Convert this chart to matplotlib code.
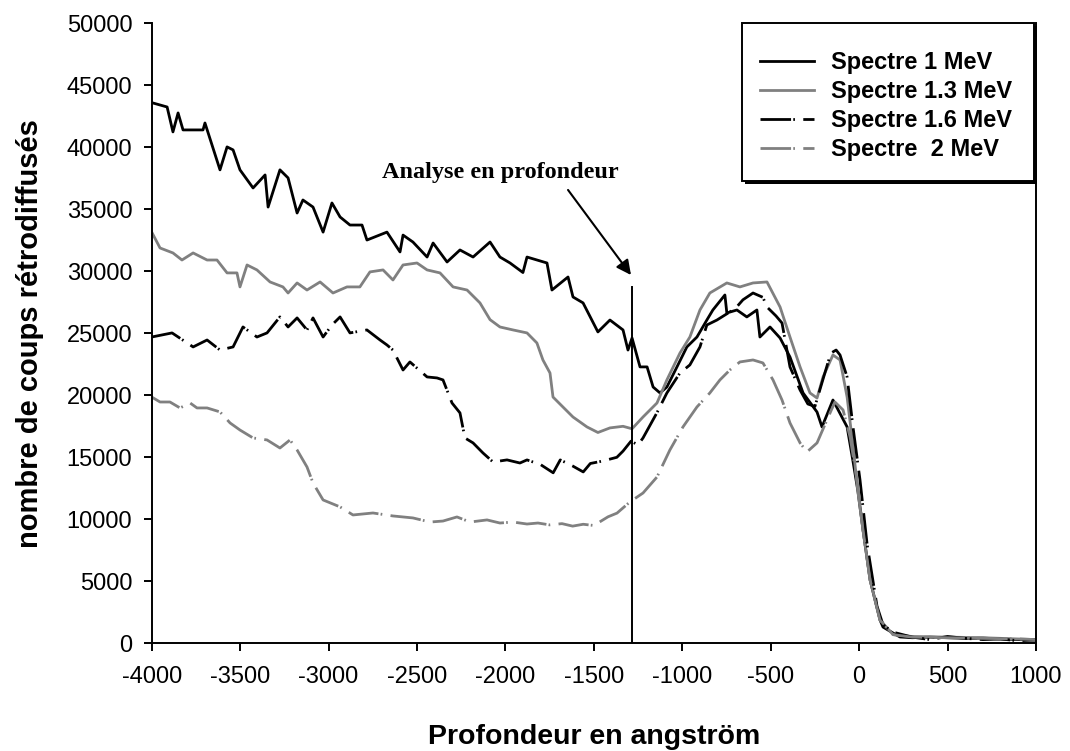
import numpy as np
import matplotlib
matplotlib.use("Agg")
import matplotlib.pyplot as plt
from matplotlib.patches import Rectangle

GRAY = "#808080"

# spectre 1 MeV
x_1 = [-4000, -3913, -3880, -3851, -3823, -3710, -3699, -3614, -3574, -3540,
       -3501, -3427, -3359, -3342, -3275, -3229, -3178, -3145, -3088, -3031,
       -2981, -2935, -2879, -2811, -2783, -2670, -2596, -2579, -2523, -2443,
       -2409, -2330, -2257, -2183, -2087, -2031, -1974, -1901, -1878, -1765,
       -1737, -1646, -1618, -1561, -1477, -1409, -1335, -1307, -1284, -1239,
       -1199, -1165, -1126, -1087, -1030, -974, -917, -861, -827, -759,
       -748, -691, -635, -578, -561, -504, -447, -391, -317, -238,
       -210, -148, -68, -34, -6, 22, 62, 118, 135, 192,
       231, 300, 400, 500, 600, 700, 800, 900, 1000]
y_1 = [43600, 43250, 41240, 42770, 41400, 41400, 41960, 38180, 40030, 39790,
       38180, 36720, 37770, 35180, 38180, 37530, 34700, 35750, 35180, 33160,
       35510, 34380, 33730, 33730, 32520, 33160, 31560, 32920, 32360, 31150,
       32280, 30750, 31720, 31150, 32360, 31150, 30670, 29900, 31150, 30670,
       28490, 29540, 27930, 27450, 25110, 26070, 25270, 23650, 24620, 22290,
       22290, 20670, 20190, 20670, 22290, 23900, 24700, 26070, 26880, 28090,
       26640, 26880, 26320, 26880, 24700, 25510, 24620, 23090, 20190, 18650,
       17450, 19620, 17450, 14620, 12200, 9140, 5110, 1880, 1310, 830,
       510, 450, 500, 450, 400, 420, 350, 300, 250]

# spectre 1.3 MeV
x_13 = [-4000, -3953, -3880, -3829, -3766, -3687, -3631, -3574, -3518, -3501,
        -3461, -3405, -3331, -3258, -3229, -3178, -3122, -3048, -2975, -2896,
        -2823, -2766, -2692, -2636, -2579, -2500, -2443, -2370, -2296, -2217,
        -2144, -2087, -2031, -1957, -1878, -1822, -1788, -1748, -1731, -1675,
        -1618, -1539, -1477, -1409, -1335, -1284, -1222, -1143, -1087, -1013,
        -957, -900, -844, -748, -674, -600, -521, -447, -391, -334,
        -278, -238, -204, -148, -108, -68, -34, -6, 22, 62,
        118, 192, 300, 500, 700, 900, 1000]
y_13 = [33160, 31880, 31480, 30910, 31480, 30910, 30910, 29870, 29870, 28740,
        30510, 30110, 29140, 28740, 28250, 29060, 28490, 29140, 28250, 28740,
        28740, 29950, 30110, 29300, 30510, 30670, 30110, 29870, 28740, 28490,
        27450, 26100, 25510, 25270, 25030, 24220, 22850, 21800, 19860, 19060,
        18250, 17450, 17000, 17370, 17500, 17300, 18250, 19380, 21240, 23410,
        24700, 26880, 28250, 29060, 28740, 29060, 29140, 27120, 24700, 22290,
        20190, 19780, 21480, 23250, 22850, 19860, 15830, 12120, 9140, 5110,
        1880, 700, 550, 500, 450, 350, 300]

# spectre 1.6 MeV
x_16 = [-4000, -3885, -3766, -3687, -3614, -3540, -3484, -3405, -3348, -3275,
        -3229, -3178, -3122, -3088, -3031, -2981, -2935, -2879, -2783, -2709,
        -2670, -2636, -2579, -2540, -2443, -2387, -2353, -2302, -2257, -2229,
        -2183, -2127, -2070, -1991, -1918, -1878, -1800, -1730, -1690, -1620,
        -1560, -1520, -1450, -1370, -1335, -1290, -1250, -1222, -1143, -1087,
        -1013, -957, -900, -861, -804, -700, -657, -600, -544, -521,
        -470, -436, -391, -334, -290, -250, -200, -160, -130, -108,
        -68, -34, 5, 45, 101, 135, 192, 300, 400, 500,
        600, 700, 800, 900, 1000]
y_16 = [24700, 25030, 23900, 24460, 23650, 23900, 25510, 24700, 25030, 26320,
        25510, 26240, 25270, 26240, 24700, 25670, 26320, 25030, 25270, 24460,
        24060, 23650, 22040, 22690, 21480, 21400, 21240, 19380, 18580, 16560,
        16160, 15350, 14620, 14790, 14540, 14790, 14400, 13750, 14790, 14300,
        13820, 14500, 14700, 15000, 15500, 16300, 16000, 16560, 18600, 20190,
        21800, 22450, 23900, 25670, 26070, 27000, 27700, 28250, 27900, 27120,
        26400, 25830, 22290, 20430, 19300, 19100, 21500, 23400, 23650, 23250,
        21480, 17370, 13170, 8000, 3000, 1500, 900, 500, 300, 550,
        400, 300, 350, 200, 300]

# spectre 2 MeV
x_2 = [-4000, -3953, -3897, -3840, -3783, -3744, -3687, -3614, -3557, -3501,
       -3427, -3348, -3275, -3218, -3178, -3122, -3088, -3031, -2935, -2862,
       -2749, -2636, -2523, -2426, -2353, -2274, -2200, -2104, -2031, -1957,
       -1878, -1816, -1750, -1680, -1620, -1560, -1500, -1420, -1369, -1296,
       -1222, -1143, -1070, -996, -917, -844, -787, -731, -674, -600,
       -544, -487, -436, -391, -334, -295, -238, -182, -137, -91,
       -51, -12, 22, 62, 118, 192, 300, 500, 700, 900, 1000]
y_2 = [19860, 19460, 19460, 18980, 19380, 18980, 18980, 18660, 17770, 17200,
       16560, 16400, 15750, 16400, 15590, 14220, 12930, 11560, 11000, 10350,
       10510, 10270, 10110, 9780, 9860, 10190, 9780, 9950, 9700, 9780,
       9620, 9700, 9550, 9650, 9450, 9600, 9500, 10200, 10500, 11400,
       12120, 13410, 15590, 17450, 19060, 20190, 21240, 22040, 22690, 22850,
       22610, 21240, 19620, 17770, 16160, 15430, 16160, 18010, 19460, 18820,
       16640, 13170, 9140, 5110, 1880, 700, 500, 450, 400, 350, 300]

labels = ["Spectre 1 MeV", "Spectre 1.3 MeV", "Spectre 1.6 MeV", "Spectre  2 MeV"]

depth_line = -1284
depth_top = 28740

plt.rcParams["font.family"] = ["Liberation Sans", "DejaVu Sans"]
plt.rcParams["axes.unicode_minus"] = False

W, H = 1070, 751
fig = plt.figure(figsize=(W / 100, H / 100), dpi=100)
ax = fig.add_axes([0.1418, 0.1434, 0.8264, 0.8256])

lw = 2.0
dash = (11, 0.8, 0.6, 3)
ax.plot(x_1, y_1, color="black", lw=lw, label=labels[0])
ax.plot(x_13, y_13, color=GRAY, lw=lw, label=labels[1])
ax.plot(x_16, y_16, color="black", lw=lw, dashes=dash, label=labels[2])
ax.plot(x_2, y_2, color=GRAY, lw=lw, dashes=dash, label=labels[3])

ax.plot([depth_line, depth_line], [0, depth_top], color="black", lw=1.4)
ax.annotate("", xy=(-1290, 29700), xytext=(-1646, 36560),
            arrowprops=dict(arrowstyle="-|>", color="black", lw=1.5,
                            mutation_scale=22, shrinkA=0, shrinkB=0))
ax.text(-2030, 38000, "Analyse en profondeur", ha="center", va="center",
        family=["Liberation Serif", "DejaVu Serif"], fontweight="bold", fontsize=17.5)

ax.set_xlim(-4000, 1000)
ax.set_ylim(0, 50000)
ax.set_xticks(np.arange(-4000, 1001, 500))
ax.set_yticks(np.arange(0, 50001, 5000))
ax.tick_params(direction="out", length=6, width=1.4, labelsize=17)
ax.tick_params(axis="x", pad=10)
ax.tick_params(axis="y", pad=8, right=False)
for side in ["left", "bottom", "right"]:
    ax.spines[side].set_linewidth(1.4)
ax.spines["top"].set_visible(False)

ax.set_xlabel("Profondeur en angström", fontsize=20.5, fontweight="bold", labelpad=26)
ax.set_ylabel("nombre de coups rétrodiffusés", fontsize=21, fontweight="bold", labelpad=16)

# legend box with a solid drop shadow, drawn in figure pixels
bx0, by0, bx1, by1 = 742, 23, 1034, 181
shadow = Rectangle((bx0 / W + 3 / W, 1 - (by1 + 3) / H), (bx1 - bx0) / W, (by1 - by0) / H,
                   transform=fig.transFigure, facecolor="black", edgecolor="black",
                   lw=0, clip_on=False, zorder=4)
box = Rectangle((bx0 / W, 1 - by1 / H), (bx1 - bx0) / W, (by1 - by0) / H,
                transform=fig.transFigure, facecolor="white", edgecolor="black",
                lw=1.4, clip_on=False, zorder=4.5)
ax.add_patch(shadow)
ax.add_patch(box)

leg = ax.legend(loc="upper left", bbox_to_anchor=(bx0 / W, 1 - 33 / H),
                bbox_transform=fig.transFigure, borderaxespad=0, frameon=False,
                prop=dict(weight="bold", size=17), handlelength=2.3,
                handletextpad=0.7, labelspacing=0.26, borderpad=0.76)
leg.set_zorder(5)

fig.savefig("out.png", dpi=100)
